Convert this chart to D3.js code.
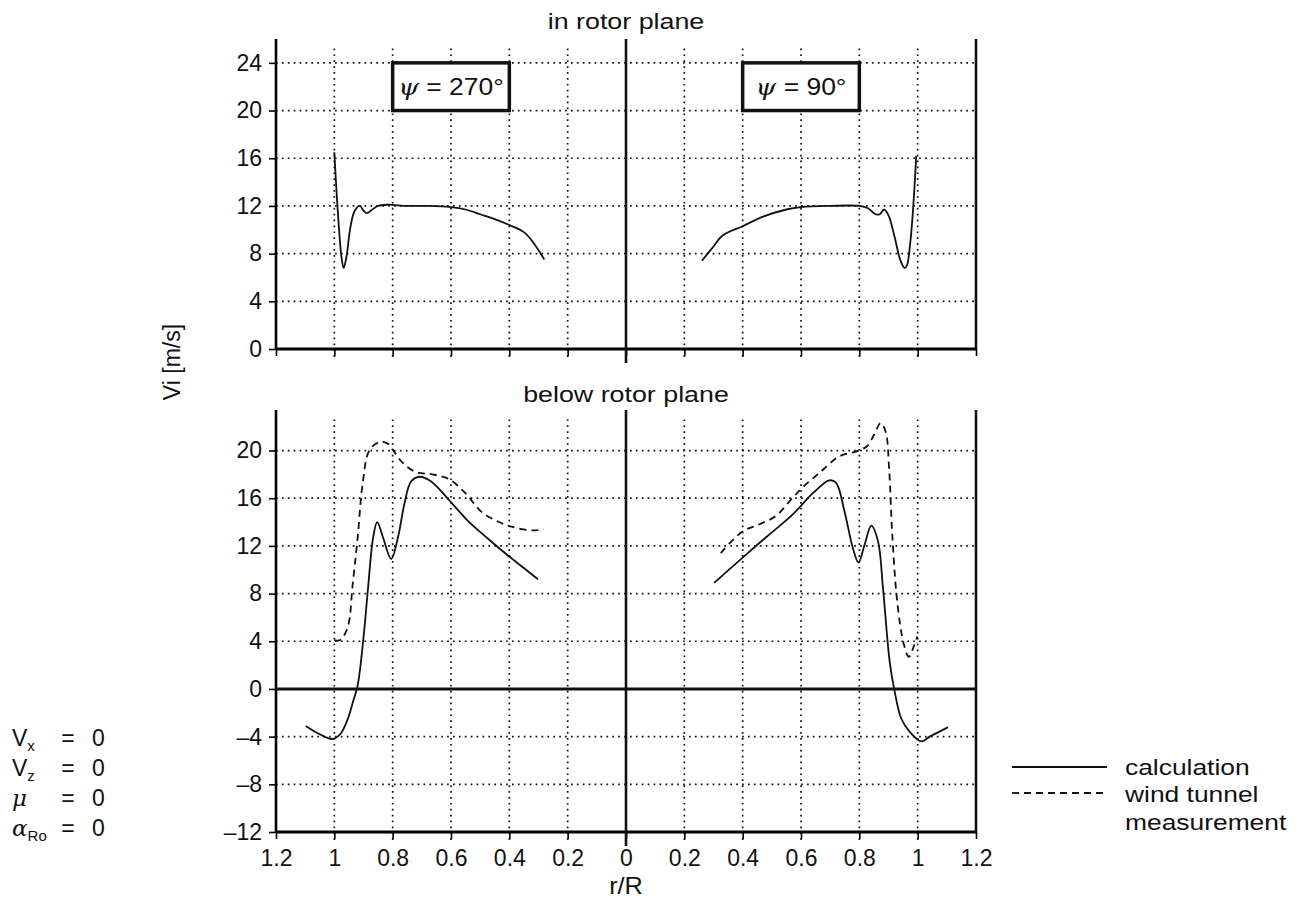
<!DOCTYPE html>
<html>
<head>
<meta charset="utf-8">
<script src="https://cdn.jsdelivr.net/npm/d3@7"></script>
<style>
  body { margin: 0; background: #fff; }
  text { font-family: "Liberation Sans", Arial, sans-serif; fill: #111; }
</style>
</head>
<body>
<div class="chart"></div>
<script>
// r/R ticks, mirrored around the hub
const xTicks = [-1.2, -1, -0.8, -0.6, -0.4, -0.2, 0, 0.2, 0.4, 0.6, 0.8, 1, 1.2]
const yTicksTop = [0, 4, 8, 12, 16, 20, 24]
const yTicksBottom = [-12, -8, -4, 0, 4, 8, 12, 16, 20]

// in rotor plane, psi = 270 (left side), calculation
const topLeftR = [1.0, 0.988, 0.975, 0.968, 0.958, 0.945, 0.93, 0.912, 0.9, 0.888, 0.87, 0.85, 0.82, 0.75, 0.68, 0.6, 0.55, 0.5, 0.45, 0.4, 0.35, 0.32, 0.28]
const topLeftV = [16.5, 11.5, 7.6, 6.8, 7.8, 10.2, 11.6, 12.0, 11.6, 11.4, 11.7, 12.0, 12.1, 12.0, 12.0, 11.9, 11.7, 11.3, 10.9, 10.4, 9.8, 9.0, 7.5]

// in rotor plane, psi = 90 (right side), calculation
const topRightR = [0.26, 0.3, 0.33, 0.4, 0.47, 0.55, 0.6, 0.7, 0.8, 0.83, 0.855, 0.87, 0.885, 0.9, 0.92, 0.94, 0.955, 0.963, 0.975, 0.985, 0.995]
const topRightV = [7.4, 8.6, 9.5, 10.3, 11.1, 11.7, 11.9, 12.0, 12.0, 11.8, 11.3, 11.3, 11.7, 11.2, 9.5, 7.5, 6.8, 7.0, 9.0, 12.0, 16.2]

// below rotor plane, psi = 270, calculation
const botLeftCalcR = [1.098, 1.05, 1.007, 0.98, 0.955, 0.935, 0.92, 0.9, 0.885, 0.867, 0.853, 0.833, 0.805, 0.782, 0.76, 0.737, 0.708, 0.668, 0.605, 0.542, 0.473, 0.405, 0.348, 0.302]
const botLeftCalcV = [-3.1, -3.8, -4.2, -3.8, -2.6, -1.0, 0.3, 4.3, 8.3, 12.7, 14.0, 12.7, 10.9, 12.7, 15.5, 17.4, 17.8, 17.4, 15.8, 14.1, 12.6, 11.2, 10.1, 9.2]

// below rotor plane, psi = 270, wind tunnel
const botLeftMeasR = [1.0, 0.98, 0.954, 0.937, 0.92, 0.903, 0.88, 0.846, 0.818, 0.795, 0.767, 0.721, 0.664, 0.607, 0.55, 0.493, 0.435, 0.39, 0.322, 0.282]
const botLeftMeasV = [4.1, 4.1, 5.2, 8.8, 12.7, 17.2, 20.0, 20.7, 20.6, 19.9, 19.0, 18.2, 18.0, 17.6, 16.4, 14.8, 14.0, 13.6, 13.3, 13.4]

// below rotor plane, psi = 90, calculation
const botRightCalcR = [0.302, 0.399, 0.479, 0.57, 0.64, 0.697, 0.72, 0.749, 0.778, 0.797, 0.818, 0.841, 0.864, 0.881, 0.904, 0.921, 0.944, 0.973, 1.013, 1.041, 1.104]
const botRightCalcV = [8.9, 11.0, 12.7, 14.6, 16.4, 17.5, 17.3, 14.9, 11.8, 10.6, 12.1, 13.7, 12.4, 8.5, 2.3, -0.2, -2.5, -3.6, -4.4, -4.0, -3.2]

// below rotor plane, psi = 90, wind tunnel
const botRightMeasR = [0.325, 0.399, 0.456, 0.513, 0.57, 0.605, 0.662, 0.731, 0.799, 0.828, 0.85, 0.873, 0.89, 0.902, 0.913, 0.93, 0.953, 0.97, 0.987, 0.999]
const botRightMeasV = [11.4, 13.2, 13.8, 14.5, 16.0, 16.9, 18.1, 19.5, 20.0, 20.4, 21.3, 22.3, 21.6, 18.5, 12.9, 7.3, 3.7, 2.7, 3.6, 4.4]

const W = 1300, H = 904
const svg = d3.select('.chart').append('svg').attr('width', W).attr('height', H)

const x = d3.scaleLinear().domain([-1.2, 1.2]).range([276, 976])
const yTop = d3.scaleLinear().domain([0, 26]).range([349, 39])
const yBot = d3.scaleLinear().domain([-12, 23.4]).range([832, 410])

const fmt = d => (Math.abs(d) === 0 ? '0' : d3.format('~g')(Math.abs(d)))
const minus = d => (d < 0 ? '\u2013' + Math.abs(d) : String(d))

// text in the scan is a bit wider than it is tall, so stretch it sideways
function label(parent, px, py, str, anchor, size, sx) {
  return parent.append('g').attr('transform', `translate(${px},${py}) scale(${sx},1)`)
    .append('text').attr('text-anchor', anchor).attr('font-size', size).text(str)
}

function panel(y, yTicks, yMin, labels) {
  const g = svg.append('g')
  const [r0, r1] = y.range()

  // dotted grid
  g.selectAll('.gx').data(xTicks.filter(d => Math.abs(d) !== 1.2 && d !== 0)).join('line')
    .attr('x1', d => x(d)).attr('x2', d => x(d)).attr('y1', r0 + 8).attr('y2', r1 + 8)
    .attr('stroke', '#111').attr('stroke-width', 1.7).attr('stroke-dasharray', '1.7,4.2')
  g.selectAll('.gy').data(yTicks.filter(d => d !== 0 && d !== yMin)).join('line')
    .attr('x1', x(-1.2)).attr('x2', x(1.2)).attr('y1', d => y(d)).attr('y2', d => y(d))
    .attr('stroke', '#111').attr('stroke-width', 1.7).attr('stroke-dasharray', '1.7,4.2')

  // y axis
  const yAxis = d3.axisLeft(y).tickValues(yTicks).tickSize(7).tickPadding(7).tickFormat(minus)
  const ga = g.append('g').attr('transform', `translate(${x(-1.2)},0)`).call(yAxis)
  ga.select('.domain').attr('stroke-width', 2.6).attr('d', `M0,${r0}V${r1}`)
  ga.selectAll('.tick line').attr('stroke-width', 1.6)
  ga.selectAll('text').attr('font-size', 23)

  // x axis at the bottom of the panel
  const xAxis = d3.axisBottom(x).tickValues(xTicks).tickSize(7).tickPadding(11).tickFormat(labels ? fmt : '')
  const gb = g.append('g').attr('transform', `translate(0,${r0})`).call(xAxis)
  gb.select('.domain').attr('stroke-width', 3).attr('d', `M${x(-1.2)},0H${x(1.2)}`)
  gb.selectAll('.tick line').attr('stroke-width', 1.6)
  gb.selectAll('text').attr('font-size', 23)

  // right border, hub line and zero line
  g.append('line').attr('x1', x(1.2)).attr('x2', x(1.2)).attr('y1', r0).attr('y2', r1)
    .attr('stroke', '#111').attr('stroke-width', 2.6)
  g.append('line').attr('x1', x(0)).attr('x2', x(0)).attr('y1', r0 + 14).attr('y2', r1)
    .attr('stroke', '#111').attr('stroke-width', 2.6)
  if (yMin < 0) {
    g.append('line').attr('x1', x(-1.2)).attr('x2', x(1.2)).attr('y1', y(0)).attr('y2', y(0))
      .attr('stroke', '#111').attr('stroke-width', 3)
  }
  return g
}

const gTop = panel(yTop, yTicksTop, 0, false)
const gBot = panel(yBot, yTicksBottom, -12, true)

function curve(g, y, rs, vs, side, dashed) {
  const pts = rs.map((r, i) => [side * r, vs[i]])
  const line = d3.line().x(d => x(d[0])).y(d => y(d[1])).curve(d3.curveCatmullRom.alpha(0.5))
  g.append('path').datum(pts).attr('d', line).attr('fill', 'none')
    .attr('stroke', '#111').attr('stroke-width', 1.8)
    .attr('stroke-dasharray', dashed ? '7,5' : null)
}

curve(gTop, yTop, topLeftR, topLeftV, -1, false)
curve(gTop, yTop, topRightR, topRightV, 1, false)
curve(gBot, yBot, botLeftMeasR, botLeftMeasV, -1, true)
curve(gBot, yBot, botRightMeasR, botRightMeasV, 1, true)
curve(gBot, yBot, botLeftCalcR, botLeftCalcV, -1, false)
curve(gBot, yBot, botRightCalcR, botRightCalcV, 1, false)

// psi boxes
const boxes = [{ x0: -0.8, x1: -0.4, label: '270°' }, { x0: 0.4, x1: 0.8, label: '90°' }]
boxes.forEach(b => {
  gTop.append('rect').attr('x', x(b.x0)).attr('y', yTop(24)).attr('width', x(b.x1) - x(b.x0))
    .attr('height', yTop(20) - yTop(24)).attr('fill', '#fff').attr('stroke', '#111').attr('stroke-width', 3.5)
  const t = label(gTop, (x(b.x0) + x(b.x1)) / 2, yTop(22) + 8, '', 'middle', 23, 1.15)
  t.append('tspan').attr('font-family', '"DejaVu Serif", serif').attr('font-style', 'italic').text('ψ')
  t.append('tspan').text(' = ' + b.label)
})

// titles
label(svg, x(0), 29, 'in rotor plane', 'middle', 22, 1.22)
label(svg, x(0), 402, 'below rotor plane', 'middle', 22, 1.22)
label(svg, x(0), 894, 'r/R', 'middle', 23, 1.1)
svg.append('g').attr('transform', 'translate(180,362) rotate(-90)')
  .append('text').attr('text-anchor', 'middle').attr('font-size', 23).text('Vi [m/s]')

// flight condition
const cond = [
  { main: 'V', sub: 'x', italic: false, y: 746 },
  { main: 'V', sub: 'z', italic: false, y: 776 },
  { main: 'μ', sub: '', italic: true, y: 806 },
  { main: 'α', sub: 'Ro', italic: true, y: 836 }
]
cond.forEach(c => {
  const t = svg.append('text').attr('x', 12).attr('y', c.y).attr('font-size', 23)
  t.append('tspan').attr('font-style', c.italic ? 'italic' : null)
    .attr('font-family', c.italic ? '"DejaVu Serif", serif' : null).text(c.main)
  if (c.sub) t.append('tspan').attr('font-size', 15).attr('dy', 5).text(c.sub)
  svg.append('text').attr('x', 68).attr('y', c.y).attr('text-anchor', 'middle').attr('font-size', 23).text('=')
  svg.append('text').attr('x', 92).attr('y', c.y).attr('font-size', 23).text('0')
})

// legend
const legend = svg.append('g')
legend.append('line').attr('x1', 1012).attr('x2', 1107).attr('y1', 767).attr('y2', 767)
  .attr('stroke', '#111').attr('stroke-width', 1.8)
legend.append('line').attr('x1', 1012).attr('x2', 1107).attr('y1', 793).attr('y2', 793)
  .attr('stroke', '#111').attr('stroke-width', 1.8).attr('stroke-dasharray', '7,5')
label(legend, 1125, 775, 'calculation', 'start', 22, 1.2)
label(legend, 1125, 802, 'wind tunnel', 'start', 22, 1.2)
label(legend, 1125, 830, 'measurement', 'start', 22, 1.2)
</script>
</body>
</html>
